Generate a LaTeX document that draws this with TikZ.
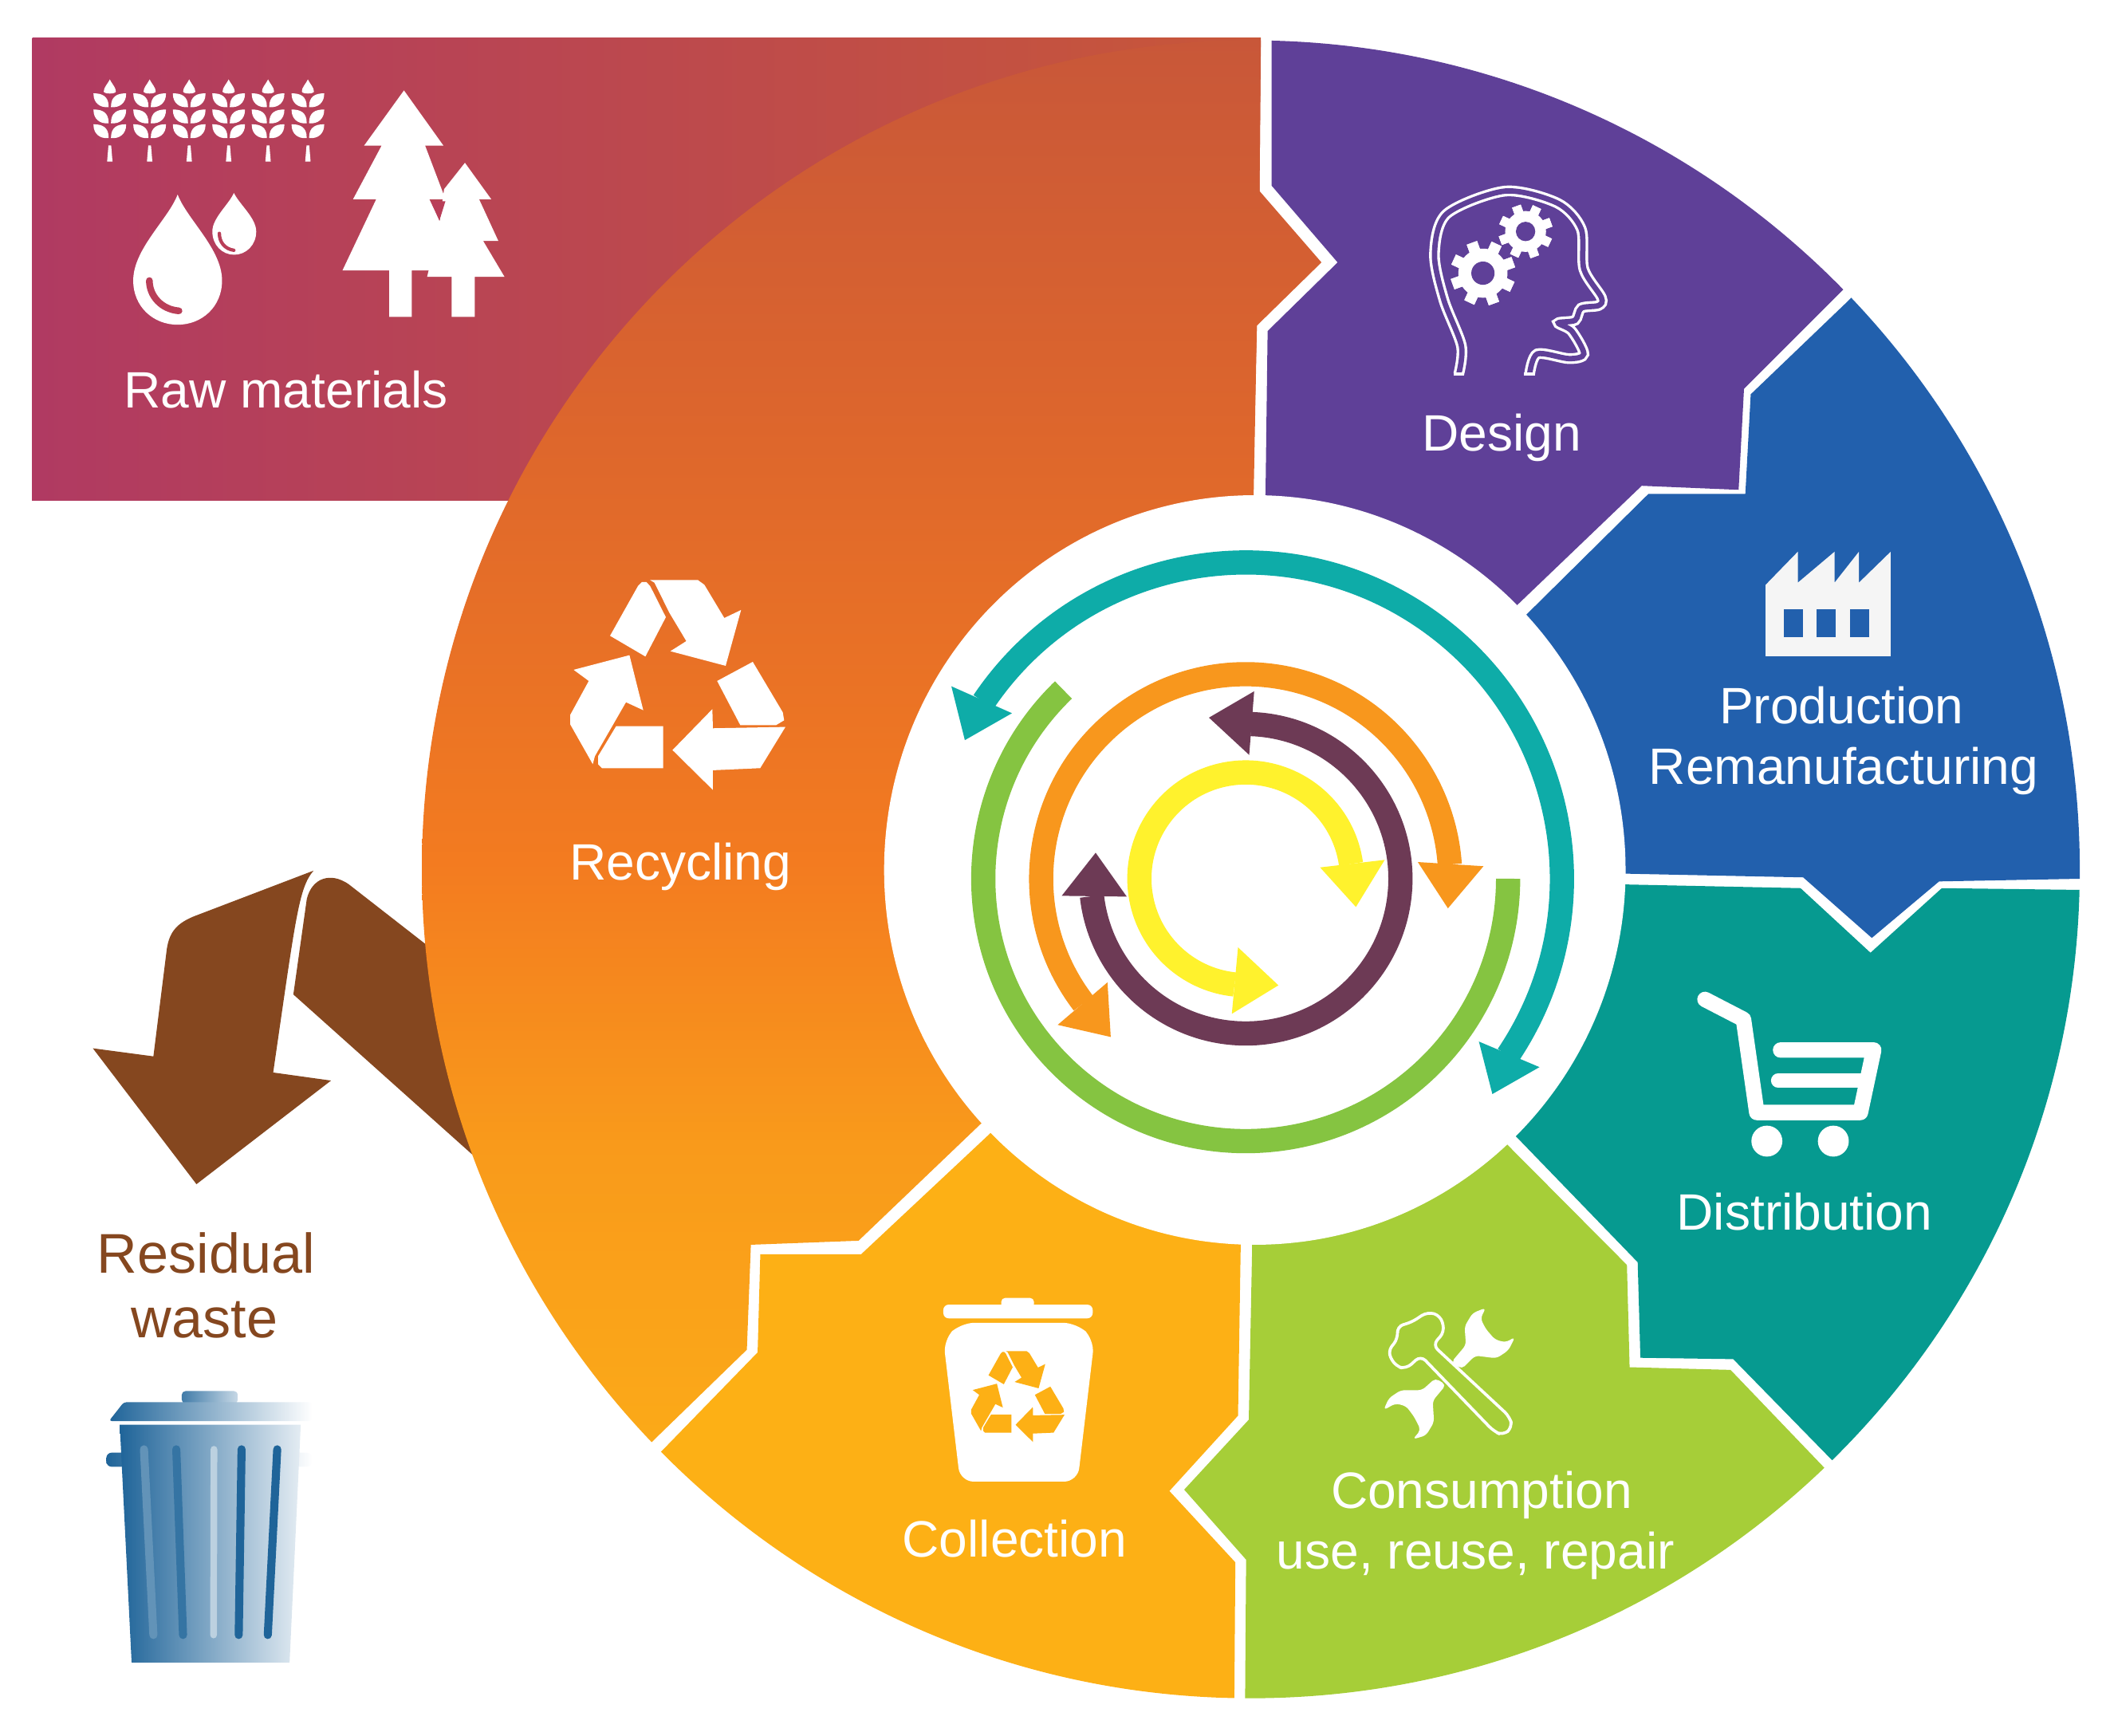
\documentclass[tikz,border=0pt]{standalone}
\usepackage{fontspec}
\usepackage{tikz}
\usetikzlibrary{calc}
\setmainfont{Liberation Sans}

\definecolor{rawleft}{HTML}{B03A62}
\definecolor{rawright}{HTML}{C85739}
\definecolor{rawmid}{HTML}{B93E58}
\definecolor{recyclea}{HTML}{DC652D}
\definecolor{recycleb}{HTML}{F37B20}
\definecolor{recyclec}{HTML}{F99A1B}
\definecolor{recycled}{HTML}{FBAA18}
\definecolor{designcol}{HTML}{5F4098}
\definecolor{prodcol}{HTML}{2260AD}
\definecolor{distcol}{HTML}{069A90}
\definecolor{conscol}{HTML}{A6CE38}
\definecolor{collcol}{HTML}{FDB015}
\definecolor{wastecol}{HTML}{85471F}
\definecolor{ringteal}{HTML}{0EACA8}
\definecolor{ringgreen}{HTML}{85C441}
\definecolor{ringorange}{HTML}{F8971D}
\definecolor{ringdark}{HTML}{6D3A55}
\definecolor{ringyellow}{HTML}{FFF22D}
\definecolor{binblue}{HTML}{1F6499}

\pgfdeclareverticalshading{recycleshade}{100bp}{color(0bp)=(recycled); color(25bp)=(recycled); color(35.9bp)=(recyclec); color(45.9bp)=(recycleb); color(62bp)=(recyclea); color(75bp)=(rawright); color(100bp)=(rawright)}

\tikzset{
	steplabel/.style={text=white, anchor=base, inner sep=0pt, font=\fontsize{38}{38}\selectfont},
	wastelabel/.style={text=wastecol, anchor=base, inner sep=0pt, font=\fontsize{41.6}{41.6}\selectfont}
}

\newcommand{\recyclesign}[1]{
	\fill[#1] (225,292) -- (330,105) -- (345,90) -- (362,90) -- (376,105) -- (435,222) -- (358,370) -- cycle;
	\fill[#1] (375,82) -- (555,82) -- (580,100) -- (655,225) -- (718,195) -- (660,405) -- (452,350) -- (512,312) -- (448,205) -- (392,92) -- cycle;
	\fill[#1] (628,462) -- (762,390) -- (875,580) -- (880,610) -- (850,628) -- (715,628) -- cycle;
	\fill[#1] (885,635) -- (790,790) -- (612,798) -- (612,872) -- (460,722) -- (610,568) -- (612,640) -- cycle;
	\fill[#1] (425,632) -- (248,632) -- (180,745) -- (180,775) -- (195,790) -- (425,790) -- cycle;
	\fill[#1] (160,775) -- (75,625) -- (75,590) -- (145,462) -- (88,420) -- (298,365) -- (350,572) -- (285,542) -- (168,745) -- cycle;
}

\newcommand{\gearicon}[3]{
	\foreach \a in {0,45,...,315}
		\fill[white, rotate around={\a+20:(#1,#2)}] ($(#1,#2)+(-0.17*#3,-#3)$) rectangle ($(#1,#2)+(0.17*#3,#3)$);
	\fill[white] (#1,#2) circle (0.76*#3);
	\fill[designcol] (#1,#2) circle (0.36*#3);
}

\begin{document}
\begin{tikzpicture}[x=1pt,y=-1pt]
	\useasboundingbox (0,0) rectangle (1568,1290);

	\shade[left color=rawleft, right color=rawright] (24,28) -- (937,28) -- (936,142) -- (934,242) -- (931,372) -- (24,372) -- cycle;

	\fill[wastecol] (218,739) -- (228,668) .. controls (232,652) and (246,648) .. (259,657) -- (345,724) -- (370,875) -- cycle;
	\fill[wastecol] (146,880) -- (69,779) -- (114,785) -- (124,705) .. controls (126,692) and (132,686) .. (144,681) -- (233,647) .. controls (222,660) and (220,680) .. (203,797) -- (246,803) -- cycle;

	\begin{scope}
		\clip (929.5,646) circle (616);
		\begin{scope}
			\clip (937,20) -- (936,142) -- (982,195) -- (934,242) -- (931,400) -- (790,777) -- (729,835) -- (638,922) -- (558,925) -- (555,1003) -- (486,1070) -- (420,1135) -- (200,1135) -- (200,20) -- cycle;
			\shade[shading=recycleshade] (200,28) rectangle (1000,1080);
		\end{scope}
		\fill[designcol] (945,0) -- (945,138) -- (994,195) -- (942,246) -- (940,400) -- (1030,543) -- (1220,361) -- (1292,364) -- (1296,289) -- (1420,165) -- (1420,0) -- cycle;
		\fill[prodcol] (1425,172) -- (1374,223) -- (1301,293) -- (1297,367) -- (1225,367) -- (1040,550) -- (1100,647) -- (1340,652) -- (1391,697) -- (1441,655) -- (1600,652) -- (1600,172) -- cycle;
		\fill[distcol] (1600,662) -- (1443,660) -- (1390,708) -- (1338,660) -- (1100,655) -- (1040,755) -- (1217,938) -- (1219,1009) -- (1288,1010) -- (1420,1145) -- (1600,1145) -- cycle;
		\fill[conscol] (1420,1155) -- (1355,1090) -- (1286,1018) -- (1211,1016) -- (1209,940) -- (1030,760) -- (930.5,800) -- (930.5,926.5) -- (928,1055) -- (880,1107) -- (926,1159) -- (925,1300) -- (1420,1300) -- cycle;
		\fill[collcol] (922,800) -- (922,925) -- (920,1052) -- (869,1108) -- (918,1161) -- (917,1300) -- (400,1300) -- (430,1140) -- (493,1077) -- (563,1005) -- (565,932) -- (640,932) -- (735,843) -- (800,782) -- cycle;
	\end{scope}
	\fill[white] (932.5,646.5) ellipse (275.5 and 278.5);

	\foreach \col/\rad/\from/\to in {ringteal/235/-146/34, ringgreen/195/-134/-360, ringorange/152/-217.5/-4, ringdark/115/-88/173.5, ringyellow/79/-8/-264}
		\draw[\col, line width=18pt] (925.7,653) ++(\from:\rad) arc (\from:\to:\rad);

	\fill[ringteal] (707,510) -- (752,530) -- (717,550) -- cycle;
	\fill[ringteal] (1099,774) -- (1144,793) -- (1109,813) -- cycle;
	\fill[ringorange] (1053.6,640.6) -- (1102.4,643.7) -- (1076,675) -- cycle;
	\fill[ringorange] (786,761.6) -- (823,730) -- (825.4,770.6) -- cycle;
	\fill[ringdark] (898.4,533.3) -- (932,513.7) -- (928.3,561) -- cycle;
	\fill[ringdark] (814.2,633.7) -- (789,665.7) -- (837.3,666.3) -- cycle;
	\fill[ringyellow] (1007.6,674) -- (981,644.6) -- (1029,639) -- cycle;
	\fill[ringyellow] (950,732.2) -- (920,704) -- (915.4,753.4) -- cycle;

	\foreach \x in {81.6,111.2,140.6,169.9,199.2,228.8} {
		\begin{scope}[shift={(\x,0)}]
			\fill[white] (0,59) .. controls (-2,63) and (-4.5,65) .. (-4.5,68) .. controls (-4.5,70) and (4.5,70) .. (4.5,68) .. controls (4.5,65) and (2,63) .. cycle;
			\foreach \t in {70,82,93}
				\foreach \s in {-1,1}
					\filldraw[white, line width=1.2pt] (\s*1.5,\t+9) .. controls (\s*7,\t+9.5) and (\s*11.5,\t+6) .. (\s*11.5,\t) .. controls (\s*6,\t) and (\s*1.5,\t+2) .. cycle;
			\fill[white] (-1,108) -- (1,108) -- (2,120) -- (-2,120) -- cycle;
		\end{scope}
	}

	\fill[white] (132,144.6) .. controls (125,163) and (99,185) .. (99,208.5) .. controls (99,228) and (114,241.3) .. (132,241.3) .. controls (150,241.3) and (165,228) .. (165,208.5) .. controls (165,185) and (139,163) .. cycle;
	\draw[rawmid, line width=5pt, line cap=round] (111,208.5) .. controls (111,220) and (120,230) .. (133,231);
	\fill[white] (173.8,143.4) .. controls (170,152) and (157.8,162) .. (157.8,172) .. controls (157.8,182) and (165,189.3) .. (174,189.3) .. controls (183,189.3) and (190.4,182) .. (190.4,172) .. controls (190.4,162) and (178,152) .. cycle;
	\draw[rawmid, line width=2.5pt, line cap=round] (163,173.4) .. controls (163,180) and (167,185) .. (173.8,186);

	\fill[white] (300.2,67.2) -- (329.5,108.2) -- (315.9,108.2) -- (331,148) -- (319,148) -- (345,201) -- (320.4,201) -- (306,201) -- (306,235.5) -- (289.3,235.5) -- (289.3,201) -- (254.5,201) -- (279.6,148) -- (262.4,148) -- (283.6,108.2) -- (270.6,108.2) -- cycle;
	\fill[white] (345.5,121) -- (365,148) -- (356,148) -- (370.3,179) -- (359,179) -- (374.9,205.7) -- (352.8,205.7) -- (352.8,235.5) -- (335.6,235.5) -- (335.6,205.7) -- (317.4,205.7) -- (326,170) -- (330,140.6) -- cycle;
	\fill[rawmid] (320,149.5) -- (331,149.5) -- (326.5,164) -- cycle;

	\draw[white, line width=2pt, double=designcol, double distance=4pt] plot[smooth, tension=0.5] coordinates {(1084,278) (1086,257) (1073,223) (1066,189) (1075,159) (1118.5,142) (1157.5,151) (1175,170) (1177,200) (1190,221) (1188,227) (1175,229) (1170.5,238) (1158,240) (1168,246) (1177,263) (1166,266.5) (1142.4,263) (1136.7,278)};
	\draw[white, line width=2pt] (1080,278) -- (1088,278);
	\draw[white, line width=2pt] (1132.5,278) -- (1141,278);
	\gearicon{1102}{203}{24}
	\gearicon{1133.7}{172}{20}

	\fill[white!96!black] (1312,434.7) -- (1336,410) -- (1336,433) -- (1363.3,410) -- (1363.3,433) -- (1381.4,410) -- (1381.4,433) -- (1405,410) -- (1405,487.6) -- (1312,487.6) -- cycle;
	\foreach \x in {1325.6,1350,1375}
		\fill[prodcol] (\x,452.5) rectangle ++(14,21);

	\draw[white, line width=11.5pt, line cap=round, line join=round] (1267,742.7) -- (1295.6,757.5) -- (1305.5,826.7) -- (1382.5,826.7) -- (1392.4,780.3) -- (1323.2,780.3);
	\draw[white, line width=10.5pt, line cap=round] (1321.3,803) -- (1384.5,803);
	\fill[white] (1313,848) circle (11.5);
	\fill[white] (1362.4,848) circle (11.5);

	\begin{scope}[shift={(1007.4,960)}, scale=0.1975]
		\fill[white, rounded corners=3pt] (490,60) -- (440,80) -- (410,130) -- (415,200) -- (360,265) -- (400,290) -- (450,240) -- (530,250) -- (575,220) -- (600,170) -- (565,190) -- (525,180) -- (490,140) -- (470,100) -- cycle;
		\fill[white, rounded corners=3pt] (105,445) -- (150,420) -- (190,430) -- (220,470) -- (245,520) -- (215,555) -- (265,540) -- (295,490) -- (290,410) -- (340,350) -- (300,325) -- (250,370) -- (170,370) -- (125,400) -- cycle;
		\draw[white, line width=2.2pt, fill=conscol, rounded corners=5pt] (290,200) -- (580,470) -- (590,510) -- (555,540) -- (520,525) -- (245,240) -- (190,290) -- (150,280) -- (120,225) -- (160,175) -- (155,130) -- (210,115) -- (270,75) -- (320,90) -- (335,150) -- cycle;
	\end{scope}

	\fill[white, rounded corners=4pt] (701,969.5) rectangle (812,979.7);
	\fill[white, rounded corners=3pt] (744,964.5) rectangle (768.4,972);
	\fill[white, rounded corners=10pt] (714,983) -- (800,983) -- (813.3,995.6) -- (800.8,1101) -- (713.5,1101) -- (701,995.6) -- cycle;

	\begin{scope}[shift={(408.9,414.8)}, scale=0.1975]
		\recyclesign{white}
	\end{scope}
	\begin{scope}[shift={(715.3,997)}, scale=0.0856]
		\recyclesign{collcol}
	\end{scope}

	\shade[left color=binblue!85, right color=binblue!25, rounded corners=3pt] (135,1043) -- (135,1033.7) -- (176.8,1033.7) -- (176.8,1043) -- cycle;
	\shade[left color=binblue, right color=white, rounded corners=2pt] (81,1056) -- (92,1042) -- (232,1042) -- (232,1056) -- cycle;
	\shade[left color=binblue, right color=white, rounded corners=4pt] (79,1079.5) rectangle (232,1090);
	\shade[left color=binblue, middle color=binblue!68, right color=binblue!12] (89,1058.7) -- (223.5,1058.7) -- (215.2,1235.4) -- (97.8,1235.4) -- cycle;
	\draw[binblue!70, line width=6pt, line cap=round] (107,1077) -- (114,1215);
	\draw[binblue!90, line width=6pt, line cap=round] (131,1077) -- (136,1215);
	\draw[binblue!30, line width=5pt, line cap=round] (159,1077) -- (158.7,1215);
	\draw[binblue, line width=6pt, line cap=round] (179.5,1077) -- (177.4,1215);
	\draw[binblue, line width=6pt, line cap=round] (206,1077) -- (199,1215);

	\node[steplabel] (raw) at (212.5,303) {Raw materials};
	\node[steplabel] (design) at (1116,335) {Design};
	\node[steplabel] (production) at (1368.5,538) {Production};
	\node[steplabel] (reman) at (1370,583) {Remanufacturing};
	\node[steplabel] (distribution) at (1341,914) {Distribution};
	\node[steplabel] (consumption) at (1101,1121) {Consumption};
	\node[steplabel] (use) at (1096.5,1166) {use, reuse, repair};
	\node[steplabel] (collection) at (754,1157) {Collection};
	\node[steplabel] (recycling) at (505.5,654) {Recycling};
	\node[wastelabel] (residual) at (153,946) {Residual};
	\node[wastelabel] (waste) at (152,994) {waste};
\end{tikzpicture}
\end{document}
